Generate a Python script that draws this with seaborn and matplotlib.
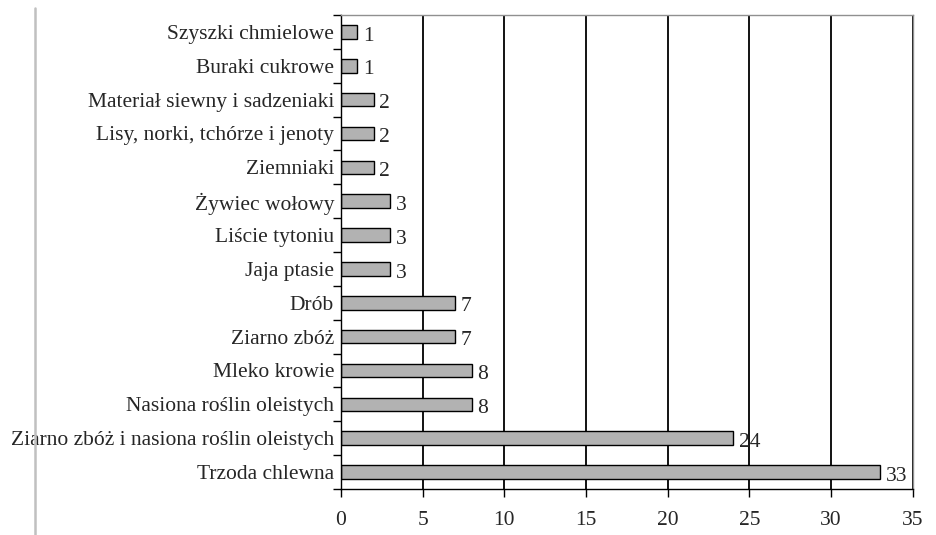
import pandas as pd
import matplotlib.pyplot as plt
import matplotlib.lines as mlines
import seaborn as sns

# data (top to bottom)
categories = [
    'Szyszki chmielowe', 'Buraki cukrowe', 'Materiał siewny i sadzeniaki',
    'Lisy, norki, tchórze i jenoty', 'Ziemniaki', 'Żywiec wołowy',
    'Liście tytoniu', 'Jaja ptasie', 'Drób', 'Ziarno zbóż', 'Mleko krowie',
    'Nasiona roślin oleistych', 'Ziarno zbóż i nasiona roślin oleistych',
    'Trzoda chlewna'
]
values = [1, 1, 2, 2, 2, 3, 3, 3, 7, 7, 8, 8, 24, 33]
x_ticks = [0, 5, 10, 15, 20, 25, 30, 35]

df = pd.DataFrame({'kategoria': categories, 'wartosc': values})

sns.set_style('white')
plt.rcParams['font.family'] = ['Liberation Serif', 'DejaVu Serif']
fs = 15.5

fig = plt.figure(figsize=(9.36, 5.35), dpi=100)
ax = fig.add_axes([0.3643, 0.086, 0.611, 0.886])

# vertical gridlines behind the bars
for t in x_ticks[1:]:
    ax.axvline(t, color='black', lw=1.3, zorder=0)

sns.barplot(data=df, x='wartosc', y='kategoria', order=categories, orient='h',
            color='#b2b2b2', edgecolor='black', linewidth=1.0, width=0.4,
            saturation=1, ax=ax, zorder=2)

# value labels
for i, v in enumerate(values):
    ax.annotate(str(v), xy=(v, i), xytext=(4, -3), textcoords='offset points',
                ha='left', va='center', fontsize=fs)

ax.set_xlim(0, 35)
ax.set_ylim(len(categories) - 0.5, -0.5)
ax.set_xticks(x_ticks)
ax.set_xticklabels([str(t) for t in x_ticks], fontsize=fs)
ax.set_yticks([i + 0.5 for i in range(-1, len(categories))], minor=False)
ax.set_yticklabels([''] * (len(categories) + 1))
ax.set_yticks(range(len(categories)), minor=True)
ax.set_yticklabels(categories, minor=True, fontsize=fs)
ax.tick_params(axis='y', which='major', direction='out', length=6, width=1, color='black', left=True)
ax.tick_params(axis='y', which='minor', length=0, pad=5)
ax.tick_params(axis='x', direction='out', length=6, width=1, color='black', bottom=True, pad=10)
ax.set_xlabel('')
ax.set_ylabel('')

for side in ['left', 'bottom']:
    ax.spines[side].set_color('black')
    ax.spines[side].set_linewidth(1.0)
for side in ['top', 'right']:
    ax.spines[side].set_color('#909090')
    ax.spines[side].set_linewidth(1.0)

# thin gray page-margin line on the left
fig.add_artist(mlines.Line2D([0.0374, 0.0374], [0.0, 0.985], color='#c0c0c0', lw=1.8,
                             transform=fig.transFigure))

fig.savefig('out.png', dpi=100)
